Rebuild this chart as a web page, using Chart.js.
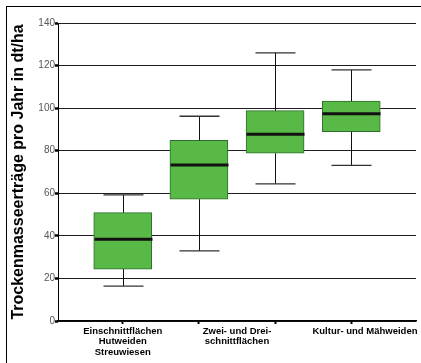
<!DOCTYPE html>
<html>
<head>
<meta charset="utf-8">
<script src="https://cdn.jsdelivr.net/npm/chart.js@4/dist/chart.umd.min.js"></script>
<style>
  html, body { margin: 0; padding: 0; background: #fff; }
  #wrap { position: relative; width: 421px; height: 363px; overflow: hidden; }
  #frame { position: absolute; left: 6px; top: 6px; width: 500px; height: 500px;
           border-left: 1px solid #000; border-top: 1px solid #000; pointer-events: none; }
  canvas { position: absolute; left: 0; top: 0; }
</style>
</head>
<body>
<div id="wrap">
  <canvas id="c" width="421" height="363"></canvas>
  <div id="frame"></div>
</div>
<script>
// Dry-matter yield per year (dt/ha) by grassland type: box-plot statistics
const groups      = [0, 1, 2, 3];
const whiskerLow  = [16.4, 32.9, 64.4, 73.1];
const quartile1   = [24.4, 57.2, 78.8, 88.9];
const medians     = [38.4, 73.3, 87.7, 97.4];
const quartile3   = [50.9, 84.9, 98.8, 103.3];
const whiskerHigh = [59.3, 96.2, 126.0, 118.0];

// Category captions along the x axis (the middle caption spans groups 2 and 3)
const axisLabels = [
  ['Einschnittflächen', 'Hutweiden', 'Streuwiesen'],
  ['Zwei- und Drei-', 'schnittflächen'],
  ['Kultur- und Mähweiden']
];
const labelAnchors = [0, 1.5, 3.18];

const yTicks = [0, 20, 40, 60, 80, 100, 120, 140];

// Whiskers, caps and median bars drawn through the chart scales
const boxDetails = {
  id: 'boxDetails',
  afterDatasetsDraw(chart) {
    const { ctx, scales: { x, y } } = chart;
    const boxHalf = 29, capHalf = 20;
    ctx.save();
    groups.forEach((g, i) => {
      const cx = Math.round(x.getPixelForValue(g)) + 0.5;
      const yLo = y.getPixelForValue(whiskerLow[i]);
      const yQ1 = y.getPixelForValue(quartile1[i]);
      const yMd = y.getPixelForValue(medians[i]);
      const yQ3 = y.getPixelForValue(quartile3[i]);
      const yHi = y.getPixelForValue(whiskerHigh[i]);
      ctx.strokeStyle = '#111';
      ctx.lineWidth = 1;
      ctx.beginPath();
      ctx.moveTo(cx, yQ1); ctx.lineTo(cx, yLo);
      ctx.moveTo(cx, yQ3); ctx.lineTo(cx, yHi);
      ctx.stroke();
      ctx.strokeStyle = '#333';
      ctx.lineWidth = 1.3;
      ctx.beginPath();
      ctx.moveTo(cx - capHalf, yLo); ctx.lineTo(cx + capHalf, yLo);
      ctx.moveTo(cx - capHalf, yHi); ctx.lineTo(cx + capHalf, yHi);
      ctx.stroke();
      ctx.strokeStyle = '#111';
      ctx.lineWidth = 3;
      ctx.beginPath();
      ctx.moveTo(cx - boxHalf, yMd); ctx.lineTo(cx + boxHalf, yMd);
      ctx.stroke();
    });
    ctx.restore();
  }
};

new Chart(document.getElementById('c'), {
  type: 'bar',
  data: {
    datasets: [{
      data: groups.map((g, i) => ({ x: g, y: [quartile1[i], quartile3[i]] })),
      backgroundColor: '#58b947',
      borderColor: '#2f6d2b',
      borderWidth: 1,
      borderSkipped: false,
      barThickness: 58,
      xAxisID: 'x',
      yAxisID: 'y'
    }]
  },
  options: {
    responsive: false,
    animation: false,
    events: [],
    layout: { padding: { left: 6, top: 23, right: 5, bottom: 0 } },
    plugins: { legend: { display: false }, tooltip: { enabled: false } },
    scales: {
      x: {
        type: 'linear',
        position: 'bottom',
        offset: false,
        min: -0.85,
        max: 3.85,
        afterBuildTicks: s => { s.ticks = groups.map(v => ({ value: v })); },
        ticks: { display: false },
        grid: { drawOnChartArea: false, drawTicks: true, tickLength: 3, tickWidth: 2, tickColor: '#000', offset: false },
        border: { color: '#000', width: 1.5 },
        afterFit: s => { s.height = 3; }
      },
      xl: {
        type: 'linear',
        position: 'bottom',
        offset: false,
        min: -0.85,
        max: 3.85,
        afterBuildTicks: s => { s.ticks = labelAnchors.map(v => ({ value: v })); },
        ticks: {
          autoSkip: false,
          maxRotation: 0,
          padding: 2,
          color: '#000',
          font: { family: '"Liberation Sans", Arial, sans-serif', size: 9.5, weight: 'bold', lineHeight: 1.1 },
          callback: (v, i) => axisLabels[i]
        },
        grid: { display: false, drawTicks: false },
        border: { display: false },
        afterFit: s => { s.height = 39; }
      },
      y: {
        min: 0,
        max: 140,
        afterBuildTicks: s => { s.ticks = yTicks.map(v => ({ value: v })); },
        ticks: {
          padding: 0,
          color: '#555',
          font: { family: '"Liberation Sans", Arial, sans-serif', size: 10 }
        },
        grid: { color: '#1e1e1e', lineWidth: 1, tickLength: 3, tickWidth: 2.5, tickColor: '#000' },
        border: { color: '#000', width: 1 },
        title: {
          display: true,
          text: 'Trockenmasseerträge pro Jahr in dt/ha',
          color: '#000',
          font: { family: '"Liberation Sans", Arial, sans-serif', size: 16, weight: 'bold' },
          padding: { top: 3, bottom: 0 }
        },
        afterFit: s => { s.width = 52; }
      }
    }
  },
  plugins: [boxDetails]
});
</script>
</body>
</html>
